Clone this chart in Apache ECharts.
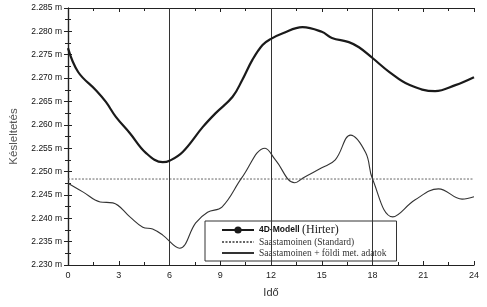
<!DOCTYPE html>
<html>
<head>
<meta charset="utf-8">
<script src="https://cdn.jsdelivr.net/npm/echarts@6/dist/echarts.min.js"></script>
<style>html,body{margin:0;padding:0;background:#fff;}#c{width:487px;height:307px;}</style>
</head>
<body>
<div id="c"></div>
<script>
// Hours (x) and delays (y)
const hours4D = [0, 0.6, 1.65, 2.24, 2.83, 3.66, 4.6, 5.6, 6.0, 6.78, 7.96, 8.73, 9.73, 10.3, 10.9, 11.5, 12.0, 12.7, 13.86, 15.0, 15.6, 16.6, 17.2, 18.0, 19.0, 20.2, 21.7, 22.9, 24];
const values4D = [2.2764, 2.2713, 2.2674, 2.2649, 2.2617, 2.2582, 2.2540, 2.2520, 2.2523, 2.2542, 2.2595, 2.2625, 2.2660, 2.2696, 2.2739, 2.2771, 2.2784, 2.2796, 2.2809, 2.2799, 2.2786, 2.2777, 2.2766, 2.2743, 2.2713, 2.2685, 2.2672, 2.2685, 2.2702];

const hoursMet = [0, 0.9, 1.9, 2.65, 3.66, 4.42, 5.0, 5.6, 6.6, 7.55, 8.25, 9.1, 10.3, 11.65, 12.26, 13.4, 13.97, 15.0, 15.8, 16.7, 17.6, 18.0, 19.2, 20.5, 21.9, 23.3, 24];
const valuesMet = [2.2475, 2.2456, 2.2435, 2.2433, 2.2403, 2.2381, 2.2377, 2.2364, 2.2336, 2.2390, 2.2413, 2.2424, 2.2488, 2.2550, 2.2525, 2.2476, 2.2488, 2.2508, 2.2525, 2.2578, 2.2540, 2.2484, 2.2403, 2.2439, 2.2463, 2.2441, 2.2446];

const standardHours = [0, 24];
const standardValues = [2.2484, 2.2484];

const gridHours = [6, 12, 18];
const seriesNames = ['4D-Modell (Hirter)', 'Saastamoinen (Standard)', 'Saastamoinen + földi met. adatok'];
const xTitle = 'Idő';
const yTitle = 'Késleltetés';

const zip = (a, b) => a.map((v, i) => [v, b[i]]);
const chart = echarts.init(document.getElementById('c'), null, {renderer: 'canvas'});
const axisCol = '#222';
const font = 'Liberation Sans';
const serif = 'Liberation Serif';

chart.setOption({
  backgroundColor: '#fff',
  animation: false,
  grid: {left: 64, right: 13, top: 8, bottom: 42},
  legend: {
    orient: 'vertical', left: 205, top: 221,
    backgroundColor: '#fff', borderColor: '#333', borderWidth: 1,
    padding: [3, 10, 3, 16], itemGap: 1, itemWidth: 32, itemHeight: 9,
    data: [
      {name: seriesNames[0]},
      {name: seriesNames[1], itemStyle: {opacity: 0}},
      {name: seriesNames[2], itemStyle: {opacity: 0}}
    ],
    textStyle: {fontFamily: serif, fontSize: 9.5, color: '#333',
      rich: {big: {fontFamily: serif, fontSize: 12, color: '#222'}, small: {fontFamily: font, fontSize: 8.5, color: '#111', fontWeight: 'bold'}}},
    formatter: function (n) {
      if (n === seriesNames[0]) return '{small|4D-Modell} {big|(Hirter)}';
      return n;
    }
  },
  xAxis: [{
    type: 'value', min: 0, max: 24, interval: 3,
    name: xTitle, nameLocation: 'middle', nameGap: 22,
    nameTextStyle: {fontFamily: font, fontSize: 11, color: '#333'},
    axisLine: {lineStyle: {color: axisCol, width: 1.2}},
    axisTick: {inside: true, length: 4, lineStyle: {color: axisCol}},
    minorTick: {show: true, splitNumber: 2, length: 3, lineStyle: {color: axisCol}},
    axisLabel: {fontFamily: font, fontSize: 9, color: '#222', margin: 6},
    splitLine: {show: false}
  }, {
    type: 'value', min: 0, max: 24, interval: 3, position: 'top',
    axisLine: {lineStyle: {color: axisCol, width: 1.2}},
    axisTick: {inside: true, length: 4, lineStyle: {color: axisCol}},
    minorTick: {show: true, splitNumber: 2, length: 3, lineStyle: {color: axisCol}},
    axisLabel: {show: false}, splitLine: {show: false}
  }],
  yAxis: [{
    type: 'value', min: 2.230, max: 2.285, interval: 0.005,
    name: yTitle, nameLocation: 'middle', nameGap: 48,
    nameTextStyle: {fontFamily: font, fontSize: 11.5, color: '#555'},
    axisLine: {show: true, lineStyle: {color: axisCol, width: 1.2}},
    axisTick: {show: true, inside: true, length: 4, lineStyle: {color: axisCol}},
    minorTick: {show: true, splitNumber: 2, length: 3, lineStyle: {color: axisCol}},
    axisLabel: {fontFamily: font, fontSize: 8.5, color: '#111', margin: 6,
      formatter: v => v.toFixed(3) + ' m'},
    splitLine: {show: false}
  }, {
    type: 'value', min: 2.230, max: 2.285, interval: 0.005, position: 'right',
    axisLine: {show: true, lineStyle: {color: axisCol, width: 1.2}},
    axisTick: {show: true, inside: true, length: 4, lineStyle: {color: axisCol}},
    minorTick: {show: true, splitNumber: 2, length: 3, lineStyle: {color: axisCol}},
    axisLabel: {show: false}, splitLine: {show: false}
  }],
  series: [{
    name: seriesNames[0], type: 'line', smooth: 0.4,
    data: zip(hours4D, values4D),
    symbol: 'circle', symbolSize: 3, showSymbol: false,
    itemStyle: {color: '#1a1a1a'},
    lineStyle: {color: '#1a1a1a', width: 2.2},
    z: 5
  }, {
    name: seriesNames[1], type: 'line',
    data: zip(standardHours, standardValues),
    symbol: 'none',
    itemStyle: {color: '#666'},
    lineStyle: {color: '#666', width: 1, type: [2, 1.5]},
    markLine: {
      silent: true, symbol: 'none', label: {show: false},
      lineStyle: {color: '#333', width: 1, type: 'solid'},
      data: gridHours.map(h => ({xAxis: h}))
    }
  }, {
    name: seriesNames[2], type: 'line', smooth: 0.4,
    data: zip(hoursMet, valuesMet),
    symbol: 'none',
    itemStyle: {color: '#333'},
    lineStyle: {color: '#333', width: 1.1},
    z: 4
  }]
});
</script>
</body>
</html>
